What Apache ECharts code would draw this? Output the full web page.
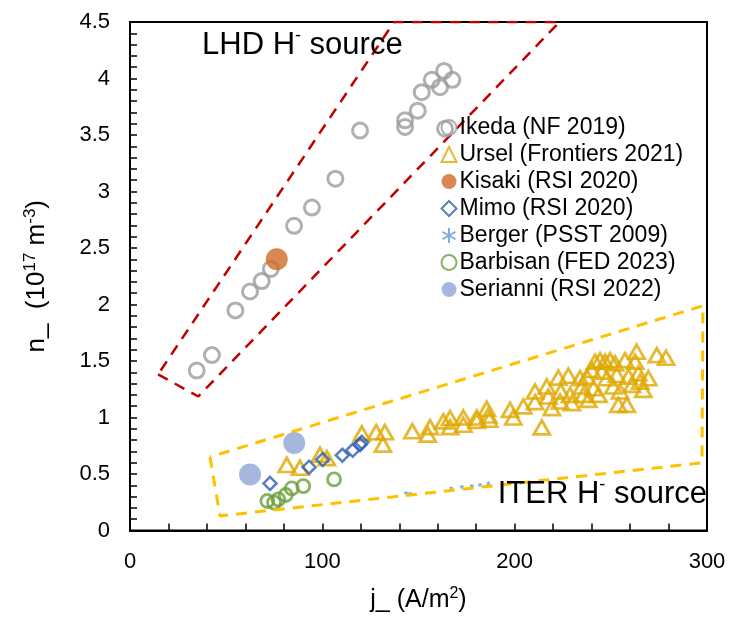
<!DOCTYPE html>
<html>
<head>
<meta charset="utf-8">
<script src="https://cdn.jsdelivr.net/npm/echarts@6/dist/echarts.min.js"></script>
<style>
html,body{margin:0;padding:0;background:#fff;}
#chart{width:735px;height:618px;}
</style>
</head>
<body>
<div id="chart"></div>
<script>
// ---- data ----
const ikedaX = [34.7, 42.6, 54.8, 62.4, 68.5, 73.2, 85.3, 94.6, 106.8, 119.6, 143.0, 143.0, 149.6, 151.7, 156.9, 161.2, 163.3, 167.6, 163.8];
const ikedaY = [1.415, 1.552, 1.948, 2.115, 2.207, 2.315, 2.696, 2.858, 3.113, 3.539, 3.571, 3.630, 3.715, 3.879, 3.988, 3.923, 4.067, 3.988, 3.556];

const urselX = [81.5, 88.4, 98.8, 102.3, 120.5, 128.0, 132.5, 131.5, 146.8, 154.8, 156.0, 162.9, 166.4, 166.4, 173.3, 173.3, 180.3, 180.3, 185.5, 186.3, 186.8, 197.6, 199.3, 204.5, 210.6, 210.6, 214.1, 216.7, 217.5, 219.3, 222.7, 224.0, 223.6, 227.9, 228.8, 229.7, 234.0, 234.9, 235.7, 238.3, 237.5, 240.1, 241.0, 241.8, 243.6, 244.4, 245.3, 247.0, 247.9, 249.6, 251.3, 252.2, 253.1, 253.9, 254.8, 257.4, 258.3, 259.2, 261.0, 262.6, 263.4, 264.3, 265.2, 266.9, 269.5, 273.9, 278.7];
const urselY = [0.58, 0.555, 0.67, 0.64, 0.86, 0.87, 0.87, 0.76, 0.878, 0.848, 0.915, 0.966, 0.995, 0.915, 1.0, 0.936, 1.0, 0.97, 1.077, 1.018, 0.98, 1.068, 1.0, 1.098, 1.23, 1.136, 0.913, 1.274, 1.186, 1.083, 1.353, 1.23, 1.142, 1.37, 1.2, 1.127, 1.347, 1.274, 1.2, 1.156, 1.36, 1.42, 1.259, 1.494, 1.2, 1.508, 1.406, 1.494, 1.347, 1.508, 1.274, 1.479, 1.376, 1.112, 1.23, 1.508, 1.112, 1.362, 1.289, 1.494, 1.582, 1.391, 1.318, 1.244, 1.347, 1.552, 1.529];

const kisakiX = [76.3];
const kisakiY = [2.40];

const mimoX = [72.8, 93.1, 100.2, 110.4, 115.8, 119.6, 120.5];
const mimoY = [0.417, 0.56, 0.628, 0.666, 0.71, 0.76, 0.78];

const bergerX = [143.5, 145.6, 167.0, 172.5, 177.7, 182.0, 186.3];
const bergerY = [0.33, 0.326, 0.372, 0.385, 0.393, 0.402, 0.416];

const barbisanX = [71.4, 74.9, 77.1, 81.0, 84.1, 90.1, 106.1];
const barbisanY = [0.261, 0.246, 0.276, 0.314, 0.372, 0.393, 0.452];

const serianniX = [62.4, 85.4];
const serianniY = [0.496, 0.775];

// dashed region outlines (data coordinates)
const lhdBoxX = [14.6, 35.5, 223.3, 137.3, 14.6];
const lhdBoxY = [1.382, 1.186, 4.5, 4.5, 1.382];
const iterBoxX = [41.6, 46.8, 297.4, 297.9, 41.6];
const iterBoxY = [0.651, 0.129, 0.599, 1.989, 0.651];

const xTicks = [0, 100, 200, 300];
const yTicks = [0, 0.5, 1, 1.5, 2, 2.5, 3, 3.5, 4, 4.5];

const seriesNames = ['Ikeda (NF 2019)', 'Ursel (Frontiers 2021)', 'Kisaki (RSI 2020)', 'Mimo (RSI 2020)', 'Berger (PSST 2009)', 'Barbisan (FED 2023)', 'Serianni (RSI 2022)'];

// ---- helpers ----
const zip = (xs, ys) => xs.map((x, i) => [x, ys[i]]);
const FONT = 'Liberation Sans, Arial, sans-serif';
const asterisk = 'path://M5,0L5,10M0.67,2.5L9.33,7.5M0.67,7.5L9.33,2.5';

const chart = echarts.init(document.getElementById('chart'), null, {renderer: 'canvas'});

const supRich = (big, small, lh) => ({
  a: {fontSize: big, color: '#000', fill: '#000', fontFamily: FONT, lineHeight: lh},
  s: {fontSize: small, color: '#000', fill: '#000', fontFamily: FONT, verticalAlign: 'top', lineHeight: small}
});

const option = {
  backgroundColor: '#fff',
  animation: false,
  grid: {left: 130, right: 28, top: 22, bottom: 85, show: true, borderColor: '#000', borderWidth: 2, containLabel: false},
  xAxis: {
    type: 'value', min: xTicks[0], max: xTicks[xTicks.length - 1], interval: 100,
    axisLine: {show: true, lineStyle: {color: '#000', width: 2}},
    axisTick: {show: true, inside: true, length: 7, lineStyle: {color: '#000', width: 1.5}},
    minorTick: {show: true, splitNumber: 5, length: 7, lineStyle: {color: '#000', width: 1.5}},
    splitLine: {show: false},
    axisLabel: {fontSize: 22, color: '#000', fontFamily: FONT, margin: 20},
    name: '{a|j_ (A/m}{s|2}{a|)}',
    nameLocation: 'middle', nameGap: 55,
    nameTextStyle: {color: '#000', fontFamily: FONT, rich: supRich(25, 16, 30)}
  },
  yAxis: {
    type: 'value', min: yTicks[0], max: yTicks[yTicks.length - 1], interval: 0.5,
    axisLine: {show: true, lineStyle: {color: '#000', width: 2}},
    axisTick: {show: true, inside: true, length: 7, lineStyle: {color: '#000', width: 1.5}},
    minorTick: {show: true, splitNumber: 5, length: 7, lineStyle: {color: '#000', width: 1.5}},
    splitLine: {show: false},
    axisLabel: {fontSize: 22, color: '#000', fontFamily: FONT, margin: 20},
    name: '{a|n_  (10}{s|17}{a| m}{s|-3}{a|)}',
    nameLocation: 'middle', nameGap: 78, nameRotate: 90,
    nameTextStyle: {color: '#000', fontFamily: FONT, rich: supRich(26, 17, 30)}
  },
  legend: {
    data: seriesNames,
    orient: 'vertical', left: 440, top: 116,
    itemWidth: 15, itemHeight: 15, itemGap: 4,
    padding: 0,
    textStyle: {fontSize: 23, lineHeight: 23, color: '#000', fontFamily: FONT, padding: [0, 0, 0, -2]},
    selectedMode: false
  },
  series: [
    {
      type: 'line', name: 'LHD box', data: zip(lhdBoxX, lhdBoxY), symbol: 'none', silent: true, clip: true,
      lineStyle: {color: '#C00000', width: 2.5, type: [11, 8]}, z: 1
    },
    {
      type: 'line', name: 'ITER box', data: zip(iterBoxX, iterBoxY), symbol: 'none', silent: true, clip: true,
      lineStyle: {color: '#FFC000', width: 3, type: [11, 8]}, z: 3
    },
    {
      type: 'scatter', name: seriesNames[0], data: zip(ikedaX, ikedaY), symbol: 'circle', symbolSize: 15,
      itemStyle: {color: 'rgba(255,255,255,0)', borderColor: '#9C9C9C', borderWidth: 3}, z: 2
    },
    {
      type: 'scatter', name: seriesNames[1], data: zip(urselX, urselY), symbol: 'triangle', symbolSize: [16, 14],
      itemStyle: {color: 'rgba(255,255,255,0)', borderColor: '#E0A800', borderWidth: 2.8}, z: 2
    },
    {
      type: 'scatter', name: seriesNames[2], data: zip(kisakiX, kisakiY), symbol: 'circle', symbolSize: 22,
      itemStyle: {color: '#D06A26'}, z: 2
    },
    {
      type: 'scatter', name: seriesNames[3], data: zip(mimoX, mimoY), symbol: 'diamond', symbolSize: 13,
      itemStyle: {color: 'rgba(255,255,255,0)', borderColor: '#2F5FB0', borderWidth: 2.5}, z: 2
    },
    {
      type: 'scatter', name: seriesNames[4], data: zip(bergerX, bergerY), symbol: asterisk, symbolSize: 4,
      itemStyle: {color: 'none', borderColor: '#5B9BD5', borderWidth: 1.2}, z: 2
    },
    {
      type: 'scatter', name: seriesNames[5], data: zip(barbisanX, barbisanY), symbol: 'circle', symbolSize: 13,
      itemStyle: {color: 'rgba(255,255,255,0)', borderColor: '#6A9E3A', borderWidth: 2.8}, z: 2
    },
    {
      type: 'scatter', name: seriesNames[6], data: zip(serianniX, serianniY), symbol: 'circle', symbolSize: 22,
      itemStyle: {color: '#8EA5D7'}, z: 2
    }
  ],
  graphic: [
    {
      type: 'text', left: 202, top: 27, z: 10,
      style: {text: '{a|LHD H}{s|-}{a| source}', rich: supRich(31, 18, 36)}
    },
    {
      type: 'text', right: 28, top: 476, z: 10,
      style: {text: '{a|ITER H}{s|-}{a| source}', rich: supRich(31, 18, 36)}
    }
  ]
};
chart.setOption(option);
</script>
</body>
</html>
